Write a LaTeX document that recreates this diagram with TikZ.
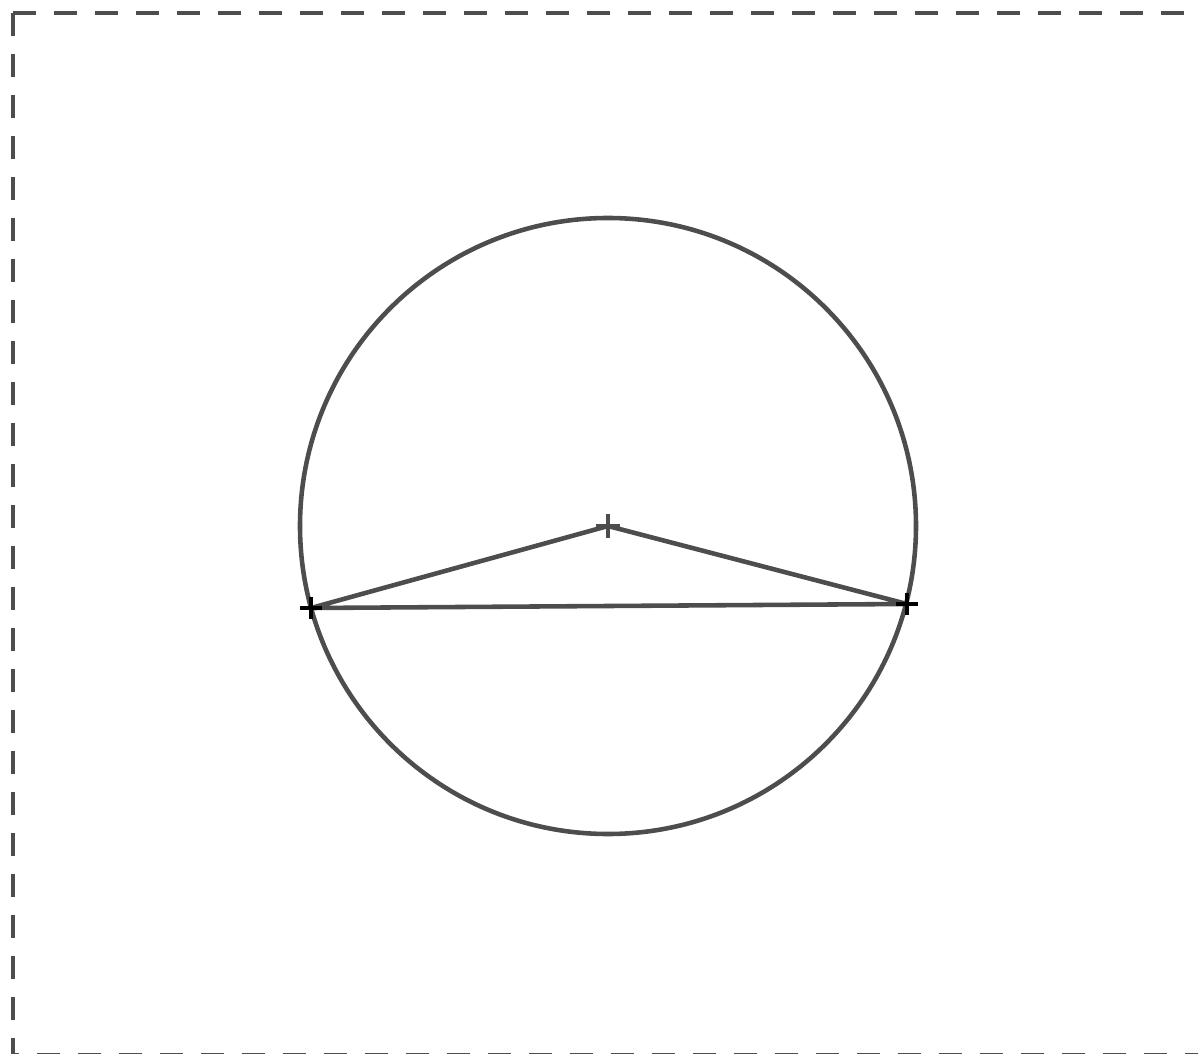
\documentclass[tikz,border=0pt]{standalone}
\usepackage{tikz}
\usetikzlibrary{calc}

\definecolor{linegray}{HTML}{4D4D4D}

\tikzset{
  frame/.style={draw=linegray, line width=2.6pt, dash pattern=on 0.46cm off 0.36cm},
  curve/.style={draw=linegray, line width=2.6pt},
  tick/.style={line width=2.4pt}
}

% plus mark at a point
\newcommand{\plusmark}[3]{%
  \draw[tick, #1] ($(#2)+(-#3,0)$) -- ($(#2)+(#3,0)$);
  \draw[tick, #1] ($(#2)+(0,-#3)$) -- ($(#2)+(0,#3)$);
}

\begin{document}
\begin{tikzpicture}[x=0.02cm, y=-0.02cm]

\useasboundingbox (0,0) rectangle (1198,1054);

% Frame
\draw[frame] (13,13) -- (1240,13);
\draw[frame] (13,13) -- (13,1055) -- (1240,1055);

% Points
\coordinate (O) at (608,526);
\coordinate (A) at (311,608);
\coordinate (B) at (907,604);

% Circle and triangle
\draw[curve] (O) circle[radius=308];
\draw[curve, line join=round] (A) -- (O) -- (B) -- cycle;

% Marks
\plusmark{linegray, line width=2pt}{O}{12}
\plusmark{black}{A}{11}
\plusmark{black}{B}{11}

\end{tikzpicture}
\end{document}
